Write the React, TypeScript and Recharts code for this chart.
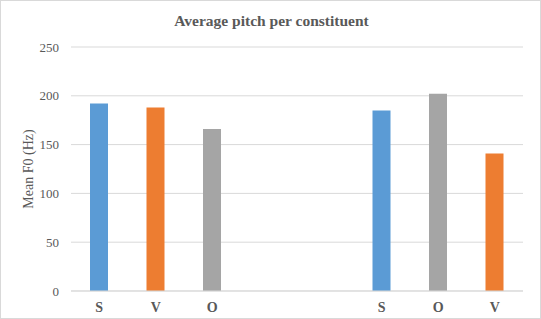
import { BarChart, Bar, XAxis, YAxis, CartesianGrid, Cell } from 'recharts';

// Constituent order per sentence type; the two blank slots separate the groups
const constituents = ['S', 'V', 'O', '', '', 'S', 'O', 'V'];
const meanF0 = [192, 188, 166, null, null, 185, 202, 141];
const yTicks = [0, 50, 100, 150, 200, 250];

const COLORS: Record<string, string> = {
  S: '#5B9BD5',
  V: '#ED7D31',
  O: '#A5A5A5',
};

const data = constituents.map((name, i) => ({ name, f0: meanF0[i] }));

const FONT = '"Liberation Serif", "Times New Roman", serif';
const TEXT = '#595959';

// Rotated axis title, centred on the plot's vertical middle
const YTitle = ({ viewBox }: { viewBox?: { x: number; y: number; height: number } }) => {
  if (!viewBox) return null;
  const cx = 28;
  const cy = viewBox.y + viewBox.height / 2;
  return (
    <text
      x={cx}
      y={cy}
      transform={`rotate(-90 ${cx} ${cy})`}
      textAnchor="middle"
      dominantBaseline="central"
      fill={TEXT}
      fontSize={14}
      fontFamily={FONT}
    >
      Mean F0 (Hz)
    </text>
  );
};

export default function App() {
  return (
    <div
      style={{
        position: 'absolute',
        left: 0,
        top: 0,
        width: 541,
        height: 319,
        background: '#fff',
        boxSizing: 'border-box',
        border: '1px solid #d9d9d9',
        fontFamily: FONT,
      }}
    >
      <div
        style={{
          position: 'absolute',
          top: 11,
          left: 0,
          width: 541,
          textAlign: 'center',
          fontSize: 15.5,
          fontWeight: 'bold',
          color: TEXT,
        }}
      >
        Average pitch per constituent
      </div>
      <div style={{ position: 'absolute', left: -1, top: -1 }}>
        <BarChart
          width={541}
          height={319}
          data={data}
          margin={{ top: 47, right: 18, bottom: 0, left: 0 }}
        >
          <CartesianGrid vertical={false} stroke="#d9d9d9" />
          <XAxis
            dataKey="name"
            height={28}
            axisLine={{ stroke: '#d9d9d9' }}
            tickLine={false}
            tickMargin={5}
            interval={0}
            tick={{ fill: TEXT, fontSize: 14, fontWeight: 'bold', fontFamily: FONT }}
          />
          <YAxis
            width={71}
            domain={[0, 250]}
            ticks={yTicks}
            axisLine={false}
            tickLine={false}
            tickMargin={6}
            tick={{ fill: TEXT, fontSize: 13, fontFamily: FONT }}
            label={<YTitle />}
          />
          <Bar dataKey="f0" barSize={18} isAnimationActive={false}>
            {data.map((d, i) => (
              <Cell key={i} fill={COLORS[d.name] || '#A5A5A5'} />
            ))}
          </Bar>
        </BarChart>
      </div>
    </div>
  );
}
